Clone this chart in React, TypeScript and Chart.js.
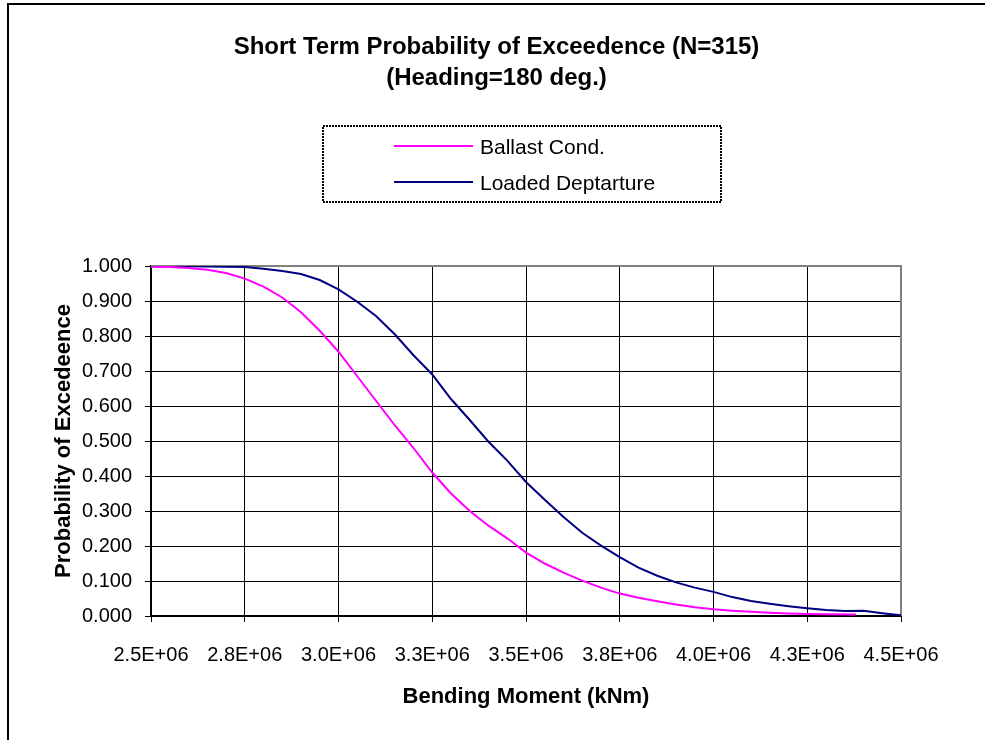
import React, { useEffect, useRef } from 'react';
import { Chart, registerables } from 'chart.js';

Chart.register(...registerables);

const FONT = '"Liberation Sans", Arial, Helvetica, sans-serif';

const chartTitle = ['Short Term Probability of Exceedence (N=315)', '(Heading=180 deg.)'];
const xAxisTitle = 'Bending Moment (kNm)';
const yAxisTitle = 'Probability of Excedeence';
const seriesNames = ['Ballast Cond.', 'Loaded Deptarture'];
const seriesColors = ['#FF00FF', '#000080'];

const xMin = 2.5e6;
const xMax = 4.5e6;
const xStep = 0.25e6;
const yMin = 0;
const yMax = 1;
const yStep = 0.1;

const ballastMoment = [
  2.50e6, 2.55e6, 2.60e6, 2.65e6, 2.70e6, 2.75e6, 2.80e6, 2.85e6, 2.90e6, 2.95e6,
  3.00e6, 3.05e6, 3.10e6, 3.15e6, 3.20e6, 3.25e6, 3.30e6, 3.35e6, 3.40e6, 3.45e6,
  3.50e6, 3.55e6, 3.60e6, 3.65e6, 3.70e6, 3.75e6, 3.80e6, 3.85e6, 3.90e6, 3.95e6,
  4.00e6, 4.05e6, 4.10e6, 4.15e6, 4.20e6, 4.25e6, 4.30e6, 4.38e6,
];
const ballastProb = [
  0.998, 0.997, 0.994, 0.989, 0.980, 0.964, 0.941, 0.910, 0.868, 0.815,
  0.755, 0.685, 0.615, 0.545, 0.480, 0.410, 0.350, 0.300, 0.258, 0.222,
  0.181, 0.150, 0.124, 0.101, 0.081, 0.064, 0.052, 0.042, 0.033, 0.025,
  0.019, 0.015, 0.012, 0.009, 0.007, 0.006, 0.005, 0.004,
];

const loadedMoment = [
  2.50e6, 2.60e6, 2.70e6, 2.75e6, 2.80e6, 2.85e6, 2.90e6, 2.95e6,
  3.00e6, 3.05e6, 3.10e6, 3.15e6, 3.20e6, 3.25e6, 3.30e6, 3.35e6, 3.40e6, 3.45e6,
  3.50e6, 3.55e6, 3.60e6, 3.65e6, 3.70e6, 3.75e6, 3.80e6, 3.85e6, 3.90e6, 3.95e6,
  4.00e6, 4.05e6, 4.10e6, 4.15e6, 4.20e6, 4.25e6, 4.30e6, 4.35e6, 4.40e6, 4.45e6, 4.50e6,
];
const loadedProb = [
  0.999, 0.999, 0.998, 0.997, 0.992, 0.986, 0.977, 0.960,
  0.933, 0.898, 0.857, 0.805, 0.745, 0.690, 0.620, 0.560, 0.498, 0.444,
  0.383, 0.332, 0.283, 0.238, 0.201, 0.168, 0.138, 0.115, 0.096, 0.081,
  0.069, 0.054, 0.043, 0.035, 0.028, 0.022, 0.017, 0.014, 0.015, 0.008, 0.002,
];

const toPoints = (xs: number[], ys: number[]) => xs.map((x, i) => ({ x, y: ys[i] }));

const formatMoment = (v: number) => (v / 1e6).toFixed(1) + 'E+06';

const decorPlugin = {
  id: 'decor',
  beforeDraw(chart: any) {
    const { ctx, width, height } = chart;
    ctx.save();
    ctx.fillStyle = '#ffffff';
    ctx.fillRect(0, 0, width, height);
    ctx.strokeStyle = '#000000';
    ctx.lineWidth = 2;
    ctx.strokeRect(8, 4, width + 100, height + 100);
    ctx.restore();
  },
  beforeDatasetsDraw(chart: any) {
    const { ctx, chartArea } = chart;
    ctx.save();
    ctx.strokeStyle = '#808080';
    ctx.lineWidth = 2;
    ctx.beginPath();
    ctx.moveTo(chartArea.left, chartArea.top);
    ctx.lineTo(chartArea.right, chartArea.top);
    ctx.lineTo(chartArea.right, chartArea.bottom);
    ctx.stroke();
    ctx.restore();
  },
  afterDraw(chart: any) {
    const { ctx, width } = chart;
    ctx.save();
    ctx.fillStyle = '#000000';
    ctx.font = `bold 24px ${FONT}`;
    ctx.textAlign = 'center';
    ctx.textBaseline = 'middle';
    const cx = (8 + width) / 2;
    ctx.fillText(chartTitle[0], cx, 47);
    ctx.fillText(chartTitle[1], cx, 78);

    const bx = 323, by = 126, bw = 398, bh = 76;
    ctx.strokeStyle = '#000000';
    ctx.lineWidth = 2;
    ctx.setLineDash([2, 1]);
    ctx.strokeRect(bx, by, bw, bh);
    ctx.setLineDash([]);
    const ds = chart.data.datasets;
    const rows = [146, 182];
    ctx.font = `21px ${FONT}`;
    ctx.textAlign = 'left';
    ctx.textBaseline = 'middle';
    ds.forEach((d: any, i: number) => {
      ctx.strokeStyle = d.borderColor;
      ctx.lineWidth = 2;
      ctx.beginPath();
      ctx.moveTo(394, rows[i]);
      ctx.lineTo(473, rows[i]);
      ctx.stroke();
      ctx.fillStyle = '#000000';
      ctx.fillText(d.label, 480, rows[i] + 2);
    });
    ctx.restore();
  },
};

export default function App() {
  const ref = useRef<HTMLCanvasElement | null>(null);

  useEffect(() => {
    if (!ref.current) return;
    const chart = new Chart(ref.current, {
      type: 'line',
      data: {
        datasets: [
          {
            label: seriesNames[0],
            data: toPoints(ballastMoment, ballastProb),
            borderColor: seriesColors[0],
            backgroundColor: seriesColors[0],
            borderWidth: 2,
            pointRadius: 0,
            tension: 0,
            fill: false,
          },
          {
            label: seriesNames[1],
            data: toPoints(loadedMoment, loadedProb),
            borderColor: seriesColors[1],
            backgroundColor: seriesColors[1],
            borderWidth: 2,
            pointRadius: 0,
            tension: 0,
            fill: false,
          },
        ],
      },
      options: {
        animation: false,
        responsive: false,
        devicePixelRatio: 1,
        layout: { padding: { top: 266, right: 84, left: 0, bottom: 0 } },
        plugins: {
          legend: { display: false },
          title: { display: false },
          tooltip: { enabled: false },
        },
        scales: {
          x: {
            type: 'linear',
            min: xMin,
            max: xMax,
            afterFit: (s: any) => { s.height = 124; },
            ticks: {
              stepSize: xStep,
              callback: (v: any) => formatMoment(Number(v)),
              color: '#000000',
              font: { family: FONT, size: 20 },
              padding: 21,
              maxRotation: 0,
              autoSkip: false,
            },
            grid: { color: '#000000', lineWidth: 1, tickLength: 6, drawTicks: true },
            border: { display: true, color: '#000000', width: 2 },
            title: {
              display: true,
              text: xAxisTitle,
              color: '#000000',
              font: { family: FONT, size: 22, weight: 'bold' },
              padding: { top: 0, bottom: 30 },
            },
          },
          y: {
            type: 'linear',
            min: yMin,
            max: yMax,
            afterFit: (s: any) => { s.width = 151; },
            ticks: {
              stepSize: yStep,
              callback: (v: any) => Number(v).toFixed(3),
              color: '#000000',
              font: { family: FONT, size: 20 },
              padding: 13,
              autoSkip: false,
            },
            grid: { color: '#000000', lineWidth: 1, tickLength: 6, drawTicks: true },
            border: { display: true, color: '#000000', width: 2 },
            title: {
              display: true,
              text: yAxisTitle,
              color: '#000000',
              font: { family: FONT, size: 22, weight: 'bold' },
              padding: { top: 51, bottom: 0 },
            },
          },
        },
      },
      plugins: [decorPlugin],
    } as any);
    return () => chart.destroy();
  }, []);

  return (
    <div style={{ position: 'absolute', left: 0, top: 0, width: 985, height: 740 }}>
      <canvas ref={ref} width={985} height={740} style={{ display: 'block' }} />
    </div>
  );
}
